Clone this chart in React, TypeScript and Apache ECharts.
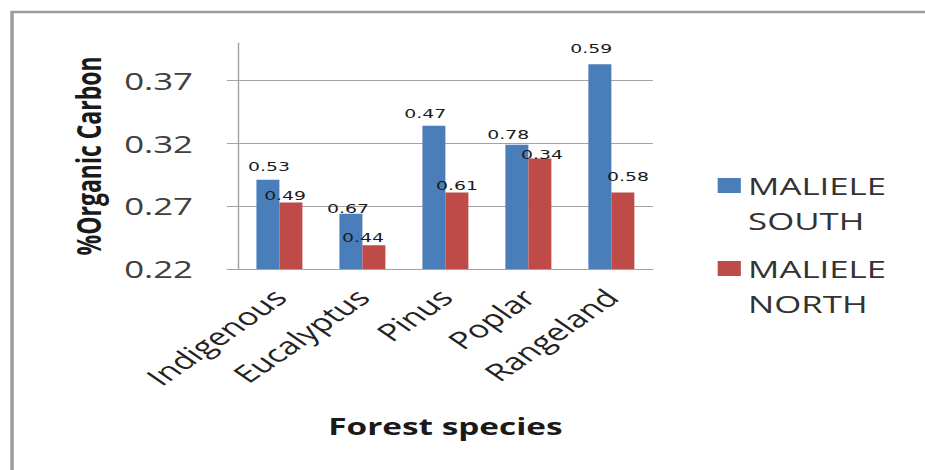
import React, { useEffect, useRef } from "react";
import * as echarts from "echarts";

// Soil organic carbon by forest species at the two Maliele sites
const species = ["Indigenous", "Eucalyptus", "Pinus", "Poplar", "Rangeland"];
const southCarbon = [0.291, 0.264, 0.334, 0.319, 0.383];
const northCarbon = [0.273, 0.239, 0.281, 0.308, 0.281];
// Annotation printed above each bar
const southTags = ["0.53", "0.67", "0.47", "0.78", "0.59"];
const northTags = ["0.49", "0.44", "0.61", "0.34", "0.58"];
const yTicks = [0.22, 0.27, 0.32, 0.37];

// The whole figure is drawn on a narrower canvas and widened horizontally.
const PAGE_W = 925;
const PAGE_H = 470;
const CHART_W = 638;
const STRETCH = PAGE_W / CHART_W;

// Small per-bar nudges of the annotations (x, y)
const southNudge = [[0.7, -2], [-2, 6], [-6, -1], [-6, 1], [-6, -4]];
const northNudge = [[-4, 5], [-7.5, 4], [0, 5], [1.4, 8], [3.5, -4]];

const BLUE = "#4a7ebb";
const RED = "#be4b48";
const GRID = "#a3a3a3";
const TEXT = "#333333";

export default function App() {
  const ref = useRef<HTMLDivElement>(null);

  useEffect(() => {
    if (!ref.current) return;
    const chart = echarts.init(ref.current, null, { renderer: "svg" });

    const legendBase = {
      orient: "vertical",
      left: 495,
      padding: 0,
      itemWidth: 16,
      itemHeight: 15,
      icon: "rect",
      selectedMode: false,
      formatter: (name: string) => "\n" + name.split(" ").join("\n"),
      textStyle: {
        fontFamily: "Open Sans",
        fontSize: 24,
        lineHeight: 35,
        color: TEXT,
      },
    };

    chart.setOption({
      animation: false,
      backgroundColor: "#ffffff",
      graphic: [
        {
          type: "rect",
          shape: { x: 8.3, y: 12, width: 700, height: 520 },
          style: { fill: "none", stroke: "#9c9c9c", lineWidth: 2.4 },
          silent: true,
        },
      ],
      legend: [
        { ...legendBase, top: 133, data: ["MALIELE SOUTH"] },
        { ...legendBase, top: 216, data: ["MALIELE NORTH"] },
      ],
      grid: {
        left: 164.1,
        right: CHART_W - 450.3,
        top: 43,
        bottom: PAGE_H - 269,
        containLabel: false,
        outerBoundsMode: "none",
      },
      xAxis: {
        type: "category",
        data: species,
        name: "Forest species",
        nameLocation: "middle",
        nameGap: 145,
        nameMoveOverlap: false,
        nameTextStyle: {
          fontFamily: "Open Sans",
          fontWeight: "bold",
          fontSize: 23,
          color: "#1a1a1a",
        },
        axisLine: { show: true, lineStyle: { color: GRID, width: 1 } },
        axisTick: { show: false },
        axisLabel: {
          interval: 0,
          rotate: 45,
          margin: 24,
          padding: [8, 0, 0, 0],
          fontFamily: "Open Sans",
          fontSize: 24,
          color: "#222222",
        },
      },
      yAxis: {
        type: "value",
        min: 0.22,
        max: 0.4,
        interval: 0.05,
        name: "%Organic Carbon",
        nameLocation: "middle",
        nameGap: 92,
        nameRotate: 90,
        nameMoveOverlap: false,
        nameTextStyle: {
          fontFamily: "Open Sans",
          fontWeight: "bold",
          fontSize: 23,
          color: "#1a1a1a",
        },
        axisLine: { show: true, lineStyle: { color: GRID, width: 1 } },
        axisTick: {
          show: true,
          inside: false,
          length: 7.6,
          customValues: yTicks,
          lineStyle: { color: GRID },
        },
        axisLabel: {
          customValues: yTicks,
          margin: 31,
          fontFamily: "Open Sans",
          fontSize: 24,
          color: "#404040",
          formatter: (v: number) => v.toFixed(2),
        },
        splitLine: {
          show: true,
          lineStyle: { color: GRID, width: 1 },
        },
      },
      series: [
        {
          name: "MALIELE SOUTH",
          type: "bar",
          barGap: "0%",
          barCategoryGap: "44.6%",
          itemStyle: { color: BLUE },
          data: southCarbon.map((v, i) => ({
            value: v,
            label: { offset: southNudge[i] },
          })),
          label: {
            show: true,
            position: "top",
            fontFamily: "DejaVu Sans",
            fontSize: 13,
            color: "#1a1a1a",
            formatter: (p: any) => southTags[p.dataIndex],
          },
        },
        {
          name: "MALIELE NORTH",
          type: "bar",
          itemStyle: { color: RED },
          data: northCarbon.map((v, i) => ({
            value: v,
            label: { offset: northNudge[i] },
          })),
          label: {
            show: true,
            position: "top",
            fontFamily: "DejaVu Sans",
            fontSize: 13,
            color: "#1a1a1a",
            formatter: (p: any) => northTags[p.dataIndex],
          },
        },
      ],
    });

    return () => chart.dispose();
  }, []);

  return (
    <div
      style={{
        position: "absolute",
        left: 0,
        top: 0,
        width: PAGE_W,
        height: PAGE_H,
        overflow: "hidden",
        background: "#ffffff",
      }}
    >
      <div
        ref={ref}
        style={{
          width: CHART_W,
          height: PAGE_H,
          transform: `scaleX(${STRETCH})`,
          transformOrigin: "0 0",
        }}
      />
    </div>
  );
}
